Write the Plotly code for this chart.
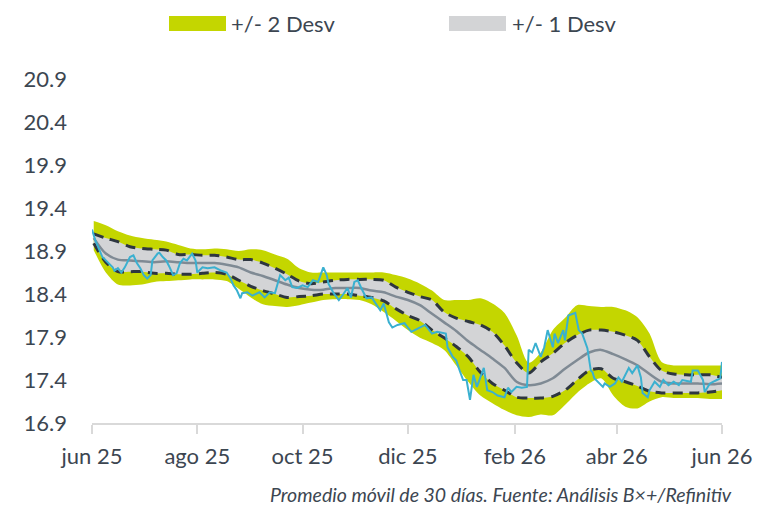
import plotly.graph_objects as go
import pandas as pd

# ---------------- data ----------------
band_dates = [d.strftime("%Y-%m-%d") for d in pd.date_range("2025-06-02", periods=53, freq="7D")]

upper2 = [19.25, 19.20, 19.13, 19.08, 19.05, 19.03, 19.01, 18.97, 18.93, 18.92,
          18.93, 18.92, 18.90, 18.92, 18.91, 18.86, 18.81, 18.70, 18.65, 18.65,
          18.65, 18.65, 18.65, 18.65, 18.65, 18.62, 18.58, 18.52, 18.44, 18.33,
          18.33, 18.33, 18.35, 18.29, 18.18, 17.92, 17.60, 17.72, 17.98, 18.12,
          18.27, 18.26, 18.25, 18.25, 18.21, 18.13, 17.94, 17.61, 17.57, 17.57,
          17.57, 17.57, 17.57]
upper1 = [19.10, 19.05, 19.01, 18.95, 18.93, 18.92, 18.91, 18.86, 18.86, 18.85,
          18.85, 18.83, 18.80, 18.80, 18.76, 18.70, 18.63, 18.55, 18.52, 18.54,
          18.56, 18.57, 18.57, 18.57, 18.56, 18.48, 18.42, 18.37, 18.33, 18.19,
          18.12, 18.08, 18.04, 17.96, 17.80, 17.60, 17.48, 17.61, 17.71, 17.83,
          17.92, 17.98, 17.98, 17.96, 17.92, 17.86, 17.67, 17.51, 17.47, 17.46,
          17.46, 17.46, 17.43]
media = [19.05, 18.87, 18.80, 18.79, 18.78, 18.77, 18.78, 18.77, 18.76, 18.76,
         18.76, 18.74, 18.71, 18.65, 18.61, 18.56, 18.51, 18.47, 18.45, 18.45,
         18.47, 18.47, 18.47, 18.44, 18.42, 18.37, 18.33, 18.27, 18.17, 18.07,
         17.97, 17.85, 17.75, 17.65, 17.54, 17.38, 17.34, 17.36, 17.42, 17.53,
         17.63, 17.72, 17.75, 17.70, 17.64, 17.57, 17.47, 17.38, 17.36, 17.36,
         17.36, 17.35, 17.36]
lower1 = [18.99, 18.77, 18.66, 18.66, 18.66, 18.64, 18.64, 18.63, 18.63, 18.64,
          18.65, 18.63, 18.56, 18.49, 18.44, 18.40, 18.36, 18.37, 18.38, 18.40,
          18.40, 18.40, 18.38, 18.36, 18.32, 18.23, 18.15, 18.09, 17.98, 17.89,
          17.79, 17.67, 17.49, 17.36, 17.28, 17.20, 17.19, 17.19, 17.21, 17.28,
          17.40, 17.51, 17.53, 17.42, 17.38, 17.33, 17.27, 17.25, 17.25, 17.25,
          17.25, 17.26, 17.28]
lower2 = [18.91, 18.65, 18.51, 18.50, 18.51, 18.54, 18.55, 18.56, 18.57, 18.57,
          18.57, 18.55, 18.46, 18.36, 18.28, 18.26, 18.25, 18.27, 18.30, 18.33,
          18.34, 18.34, 18.33, 18.28, 18.19, 18.09, 17.98, 17.89, 17.83, 17.75,
          17.57, 17.38, 17.22, 17.13, 17.05, 16.99, 16.97, 17.00, 16.99, 17.11,
          17.25, 17.36, 17.42, 17.22, 17.09, 17.07, 17.15, 17.20, 17.19, 17.19,
          17.19, 17.18, 17.18]

spot_dates = [
    "2025-06-01", "2025-06-03", "2025-06-07", "2025-06-10", "2025-06-13", "2025-06-14",
    "2025-06-16", "2025-06-18", "2025-06-20", "2025-06-23", "2025-06-25", "2025-06-27",
    "2025-06-29", "2025-07-01", "2025-07-03", "2025-07-05", "2025-07-06", "2025-07-09",
    "2025-07-10", "2025-07-12", "2025-07-14", "2025-07-16", "2025-07-18", "2025-07-20",
    "2025-07-22", "2025-07-24", "2025-07-26", "2025-07-29", "2025-07-31", "2025-08-01",
    "2025-08-04", "2025-08-07", "2025-08-11", "2025-08-15", "2025-08-18", "2025-08-20",
    "2025-08-22", "2025-08-24", "2025-08-26", "2025-08-27", "2025-08-30", "2025-09-02",
    "2025-09-06", "2025-09-09", "2025-09-12", "2025-09-15", "2025-09-18", "2025-09-21",
    "2025-09-23", "2025-09-25", "2025-09-28", "2025-10-01", "2025-10-04", "2025-10-07",
    "2025-10-10", "2025-10-13", "2025-10-15", "2025-10-16", "2025-10-19", "2025-10-22",
    "2025-10-24", "2025-10-27", "2025-10-29", "2025-10-31", "2025-11-02", "2025-11-04",
    "2025-11-07", "2025-11-10", "2025-11-13", "2025-11-15", "2025-11-17", "2025-11-20",
    "2025-11-22", "2025-11-25", "2025-11-29", "2025-12-03", "2025-12-07", "2025-12-11",
    "2025-12-15", "2025-12-18", "2025-12-23", "2025-12-24", "2025-12-27", "2025-12-29",
    "2025-12-31", "2026-01-02", "2026-01-04", "2026-01-06", "2026-01-08", "2026-01-10",
    "2026-01-12", "2026-01-14", "2026-01-16", "2026-01-19", "2026-01-22", "2026-01-26",
    "2026-01-28", "2026-01-30", "2026-02-02", "2026-02-05", "2026-02-08", "2026-02-09",
    "2026-02-11", "2026-02-13", "2026-02-16", "2026-02-18", "2026-02-20", "2026-02-23",
    "2026-02-24", "2026-02-26", "2026-03-01", "2026-03-02", "2026-03-04", "2026-03-08",
    "2026-03-10", "2026-03-12", "2026-03-15", "2026-03-17", "2026-03-18", "2026-03-19",
    "2026-03-24", "2026-03-25", "2026-03-28", "2026-03-31", "2026-04-02", "2026-04-04",
    "2026-04-08", "2026-04-10", "2026-04-13", "2026-04-15", "2026-04-16", "2026-04-19",
    "2026-04-20", "2026-04-23", "2026-04-26", "2026-04-28", "2026-05-01", "2026-05-04",
    "2026-05-07", "2026-05-09", "2026-05-14", "2026-05-15", "2026-05-18", "2026-05-21",
    "2026-05-22", "2026-05-25", "2026-05-29", "2026-05-31", "2026-06-01"]
spot = [
    19.15, 19.02, 18.83, 18.77, 18.71, 18.67,
    18.70, 18.65, 18.71, 18.83, 18.85, 18.76,
    18.70, 18.62, 18.58, 18.62, 18.79, 18.87,
    18.88, 18.83, 18.79, 18.71, 18.62, 18.64,
    18.76, 18.81, 18.79, 18.87, 18.79, 18.65,
    18.71, 18.70, 18.71, 18.67, 18.65, 18.59,
    18.50, 18.44, 18.35, 18.41, 18.42, 18.38,
    18.42, 18.36, 18.42, 18.41, 18.62, 18.56,
    18.59, 18.48, 18.47, 18.50, 18.48, 18.56,
    18.54, 18.71, 18.62, 18.52, 18.41, 18.33,
    18.38, 18.47, 18.36, 18.54, 18.56, 18.47,
    18.35, 18.36, 18.27, 18.21, 18.29, 18.07,
    18.01, 18.04, 18.06, 17.96, 18.00, 18.04,
    17.94, 17.96, 17.94, 17.78, 17.67, 17.63,
    17.51, 17.40, 17.40, 17.17, 17.46, 17.32,
    17.43, 17.54, 17.28, 17.26, 17.22, 17.20,
    17.31, 17.26, 17.32, 17.31, 17.32, 17.75,
    17.72, 17.83, 17.67, 17.78, 17.98, 17.78,
    17.94, 17.83, 17.98, 17.86, 18.15, 18.18,
    17.98, 17.94, 17.77, 17.51, 17.49, 17.42,
    17.32, 17.36, 17.32, 17.36, 17.43, 17.38,
    17.54, 17.48, 17.57, 17.43, 17.25, 17.20,
    17.28, 17.38, 17.32, 17.40, 17.34, 17.38,
    17.34, 17.40, 17.38, 17.51, 17.51, 17.40,
    17.26, 17.36, 17.40, 17.42, 17.61]

y_ticks = [16.9, 17.4, 17.9, 18.4, 18.9, 19.4, 19.9, 20.4, 20.9]
x_tick_dates = ["2025-06-01", "2025-08-01", "2025-10-01", "2025-12-01",
                "2026-02-01", "2026-04-01", "2026-06-01"]
x_tick_labels = ["jun 25", "ago 25", "oct 25", "dic 25", "feb 26", "abr 26", "jun 26"]
legend_labels = ["+/- 2 Desv", "+/- 1 Desv"]
footnote = "Promedio móvil de 30 días. Fuente: Análisis B×+/Refinitiv"

# ---------------- styles ----------------
GREEN = "#c4d600"
GREY = "#d3d4d6"
DASH = "#2e3640"
MID = "#7f8a94"
SPOT = "#3ab0d0"
TXT = "#3c4651"
FONT = "Lato"

fig = go.Figure()

fig.add_trace(go.Scatter(x=band_dates, y=lower2, mode="lines",
                         line=dict(width=0, shape="spline", smoothing=0.8),
                         showlegend=False, hoverinfo="skip"))
fig.add_trace(go.Scatter(x=band_dates, y=upper2, mode="lines", fill="tonexty",
                         fillcolor=GREEN, line=dict(width=0, shape="spline", smoothing=0.8),
                         showlegend=False, hoverinfo="skip"))
fig.add_trace(go.Scatter(x=band_dates, y=lower1, mode="lines",
                         line=dict(width=0, shape="spline", smoothing=0.8),
                         showlegend=False, hoverinfo="skip"))
fig.add_trace(go.Scatter(x=band_dates, y=upper1, mode="lines", fill="tonexty",
                         fillcolor=GREY, line=dict(width=0, shape="spline", smoothing=0.8),
                         showlegend=False, hoverinfo="skip"))
fig.add_trace(go.Scatter(x=band_dates, y=media, mode="lines",
                         line=dict(color=MID, width=2.5, shape="spline", smoothing=0.8),
                         showlegend=False))
for arr in (upper1, lower1):
    fig.add_trace(go.Scatter(x=band_dates, y=arr, mode="lines",
                             line=dict(color=DASH, width=3, dash="10px,7px",
                                       shape="spline", smoothing=0.8),
                             showlegend=False))
fig.add_trace(go.Scatter(x=spot_dates, y=spot, mode="lines",
                         line=dict(color=SPOT, width=2), showlegend=False))

# manual legend (paper coordinates)
W, H = 630.0, 344.0
def px(xp):
    return (xp - 92) / W
def py(yp):
    return (423 - yp) / H

shapes = [
    dict(type="rect", xref="paper", yref="paper", x0=px(169), x1=px(226),
         y0=py(31), y1=py(16), fillcolor=GREEN, line=dict(width=0)),
    dict(type="rect", xref="paper", yref="paper", x0=px(449), x1=px(506),
         y0=py(31), y1=py(16), fillcolor=GREY, line=dict(width=0)),
]
annotations = [
    dict(text=legend_labels[0], xref="paper", yref="paper", x=px(229), y=py(23.5),
         xanchor="left", yanchor="middle", showarrow=False,
         font=dict(family=FONT, size=22, color=TXT)),
    dict(text=legend_labels[1], xref="paper", yref="paper", x=px(510), y=py(23.5),
         xanchor="left", yanchor="middle", showarrow=False,
         font=dict(family=FONT, size=22, color=TXT)),
    dict(text="<i>" + footnote + "</i>", xref="paper", yref="paper", x=px(734), y=py(494),
         xanchor="right", yanchor="middle", showarrow=False,
         font=dict(family=FONT, size=19.5, color=TXT)),
]

fig.update_layout(
    width=758, height=505,
    margin=dict(l=92, r=36, t=79, b=82),
    paper_bgcolor="white", plot_bgcolor="white",
    font=dict(family=FONT, color=TXT),
    shapes=shapes, annotations=annotations,
    showlegend=False,
)
fig.update_xaxes(
    type="date", range=["2025-06-01", "2026-06-01"],
    tickvals=x_tick_dates, ticktext=x_tick_labels,
    ticks="outside", ticklen=9, tickwidth=2, tickcolor="#d9d9d9",
    showline=True, linecolor="#d9d9d9", linewidth=2,
    showgrid=False, zeroline=False, automargin=False,
    tickfont=dict(family=FONT, size=22, color=TXT), ticklabelstandoff=4,
)
fig.update_yaxes(
    range=[16.9, 20.9], tickvals=y_ticks, ticktext=[f"{v:.1f}" for v in y_ticks],
    showline=False, showgrid=False, zeroline=False, ticks="", automargin=False,
    tickfont=dict(family=FONT, size=22, color=TXT), ticklabelstandoff=24,
)

fig.write_html("out.html", config={"displayModeBar": False},
               post_script="document.body.style.margin='0';document.body.style.overflow='hidden';")
